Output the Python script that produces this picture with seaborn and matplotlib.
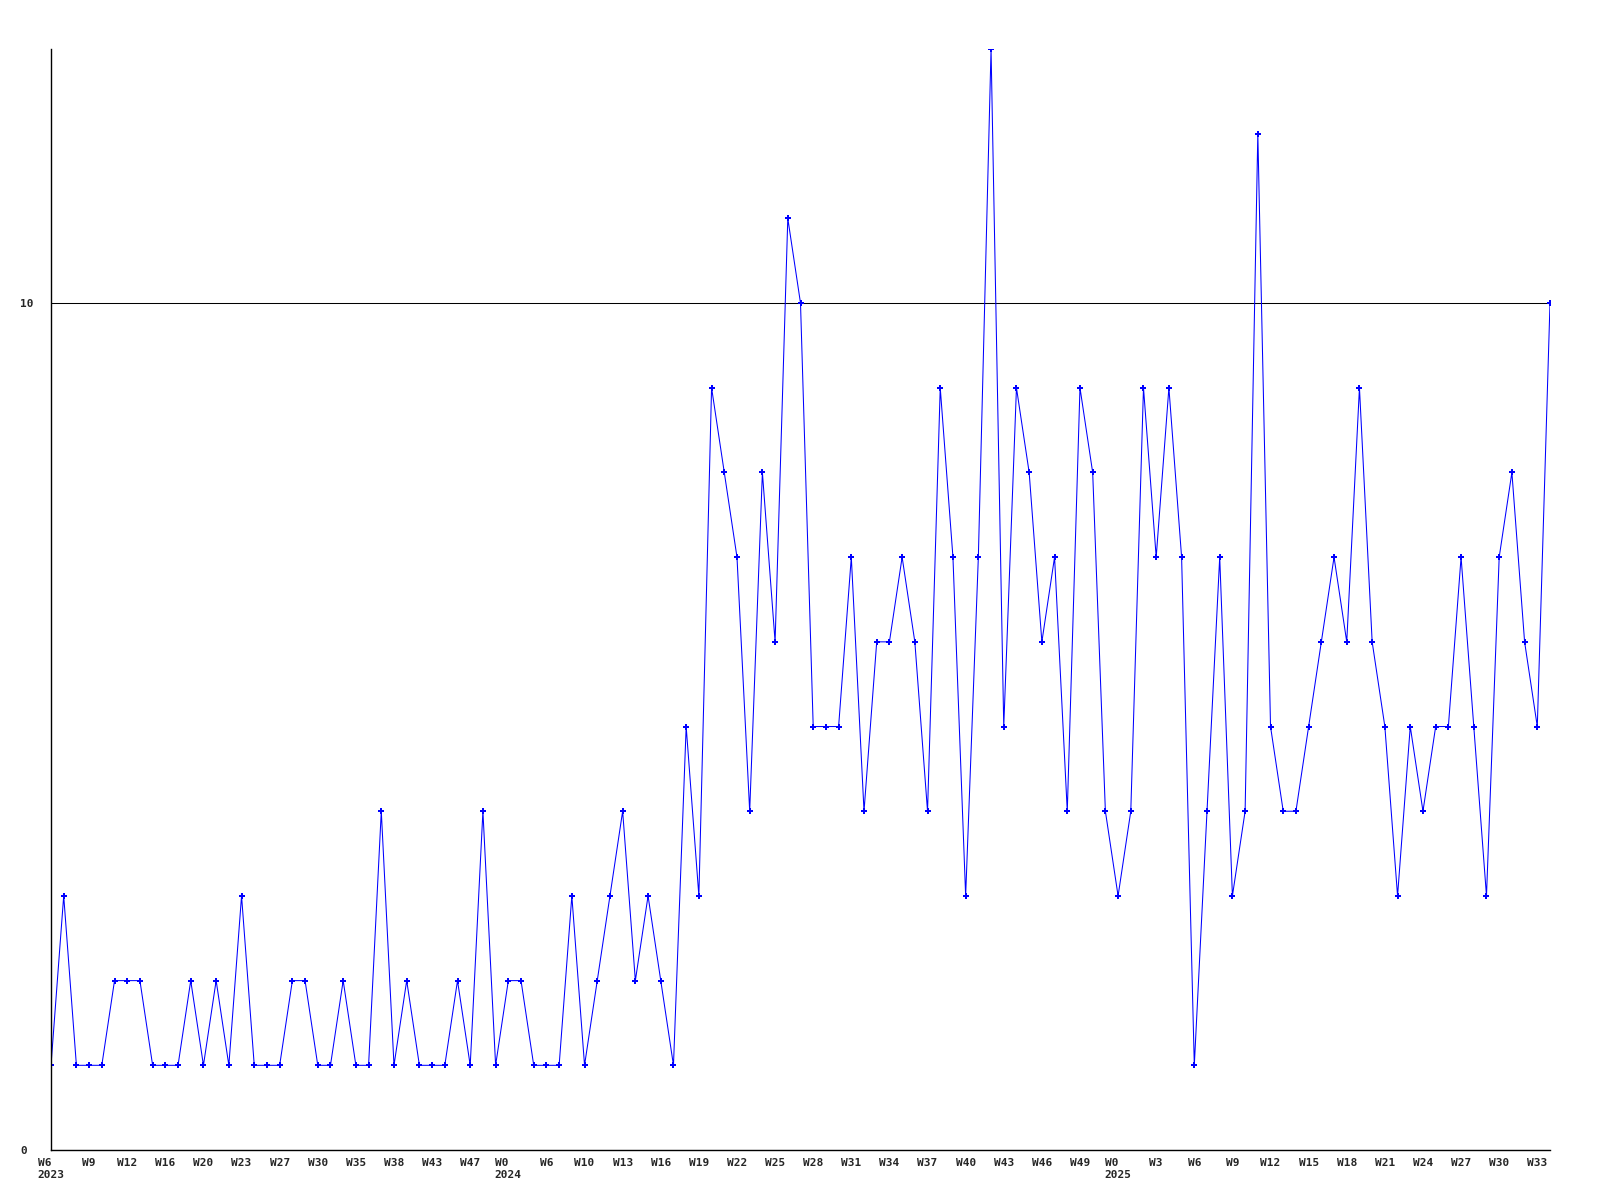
import pandas as pd
import seaborn as sns
import matplotlib.pyplot as plt

sns.set_style('white')
plt.rcParams['font.family'] = ['DejaVu Sans Mono']

# Weekly counts, one value per plotted week
counts = [1, 3, 1, 1, 1, 2, 2, 2, 1, 1, 1, 2, 1, 2, 1, 3, 1, 1, 1, 2,
          2, 1, 1, 2, 1, 1, 4, 1, 2, 1, 1, 1, 2, 1, 4, 1, 2, 2, 1, 1,
          1, 3, 1, 2, 3, 4, 2, 3, 2, 1, 5, 3, 9, 8, 7, 4, 8, 6, 11, 10,
          5, 5, 5, 7, 4, 6, 6, 7, 6, 4, 9, 7, 3, 7, 13, 5, 9, 8, 6, 7,
          4, 9, 8, 4, 3, 4, 9, 7, 9, 7, 1, 4, 7, 3, 4, 12, 5, 4, 4, 5,
          6, 7, 6, 9, 6, 5, 3, 5, 4, 5, 5, 7, 5, 3, 7, 8, 6, 5, 10]

# Tick labels shown every third point
week_labels = ['W6\n2023', 'W9', 'W12', 'W16', 'W20', 'W23', 'W27', 'W30', 'W35', 'W38',
               'W43', 'W47', 'W0\n2024', 'W6', 'W10', 'W13', 'W16', 'W19', 'W22', 'W25',
               'W28', 'W31', 'W34', 'W37', 'W40', 'W43', 'W46', 'W49', 'W0\n2025', 'W3',
               'W6', 'W9', 'W12', 'W15', 'W18', 'W21', 'W24', 'W27', 'W30', 'W33']

df = pd.DataFrame({'idx': range(len(counts)), 'count': counts})

fig = plt.figure(figsize=(16, 12), dpi=100)
ax = fig.add_axes([51 / 1600, 50 / 1200, 1499 / 1600, 1101 / 1200])

sns.lineplot(data=df, x='idx', y='count', ax=ax, color='#0000ff', linewidth=0.75,
             marker='P', markersize=4, markeredgewidth=0)

ax.set_xlim(0, len(counts) - 1)
ax.set_ylim(0, max(counts))
ax.set_xlabel('')
ax.set_ylabel('')

ax.set_xticks(range(0, len(counts), 3))
ax.set_xticklabels(week_labels, fontsize=8, fontweight='bold', multialignment='left')
ax.set_yticks([0, 10])
ax.set_yticklabels(['0', '10'], fontsize=8, fontweight='bold', ha='left')
ax.tick_params(axis='x', length=0, pad=6)
ax.tick_params(axis='y', length=0, pad=22)

ax.yaxis.grid(True, color='black', linewidth=0.75)
ax.xaxis.grid(False)
for side in ['top', 'right']:
    ax.spines[side].set_visible(False)
for side in ['left', 'bottom']:
    ax.spines[side].set_color('black')
    ax.spines[side].set_linewidth(1)

fig.savefig('out.png', dpi=100)
